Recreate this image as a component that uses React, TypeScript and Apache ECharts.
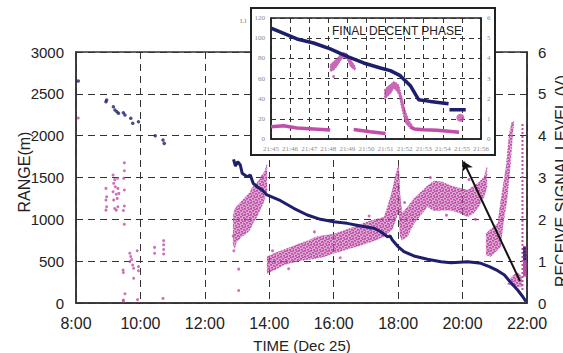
import React, { useEffect, useRef } from "react";
import * as echarts from "echarts";

const NAVY = "#1d1f6e";
const MAG = "#c04ea8";
const INK = "#222";

// ---------- main chart (time in hours, range in m, signal in V) ----------
const timeMin = 8;
const timeMax = 22;
const rangeMax = 3000;
const signalMax = 6;

const rangeDots: number[][] = [
  [8.07, 2653], [8.93, 2406], [8.95, 2426], [9.16, 2346], [9.21, 2306], [9.27, 2286],
  [9.32, 2267], [9.47, 2274], [9.52, 2247], [9.7, 2207], [9.76, 2148], [9.94, 2167],
  [10.46, 2000], [10.7, 1948], [10.74, 1908],
];

const rangeCurve: number[][] = [
  [12.89, 1717], [12.95, 1637], [13.02, 1689], [13.1, 1649], [13.16, 1550], [13.31, 1509],
  [13.41, 1530], [13.5, 1430], [13.62, 1390], [13.78, 1350], [13.93, 1291], [14.35, 1223],
  [14.76, 1132], [15.18, 1052], [15.59, 1000], [16.0, 972], [16.42, 952], [16.84, 920],
  [17.25, 893], [17.46, 852], [17.67, 792], [17.75, 800], [17.82, 753], [17.98, 681],
  [18.18, 613], [18.49, 562], [18.91, 522], [19.33, 494], [19.64, 482], [20.16, 494],
  [20.57, 474], [20.83, 434], [21.09, 386], [21.3, 335], [21.5, 243], [21.71, 155],
  [21.87, 75], [21.97, 16],
];

const rangeStub: number[][] = [[21.92, 650], [21.92, 610], [21.93, 570], [21.93, 530]];

const signalDots: number[][] = [
  [8.07, 4.42],
  [8.93, 2.74], [8.95, 2.54], [8.93, 2.46], [8.95, 2.3], [8.93, 2.22],
  [9.15, 3.06], [9.2, 2.95], [9.17, 2.86], [9.22, 2.78], [9.15, 2.66], [9.25, 2.6],
  [9.17, 2.46], [9.28, 2.5], [9.2, 2.26], [9.25, 2.22],
  [9.29, 2.98], [9.3, 2.74], [9.33, 2.62], [9.3, 2.3],
  [9.5, 3.35], [9.5, 3.16], [9.48, 2.98], [9.5, 2.7], [9.5, 2.32], [9.47, 2.21], [9.5, 1.88],
  [9.46, 0.79], [9.47, 0.73], [9.47, 0.07], [9.52, 0.22], [9.47, 0.05],
  [9.67, 1.19], [9.7, 1.11], [9.73, 1.04], [9.67, 0.99], [9.76, 0.91], [9.79, 0.83],
  [9.79, 0.59], [9.9, 1.25], [9.94, 0.87], [9.94, 0.77], [9.91, 0.08],
  [10.44, 1.33], [10.44, 1.19], [10.72, 1.49], [10.72, 1.39], [10.72, 1.28], [10.72, 1.17],
  [10.7, 0.11],
  [13.05, 0.81], [13.05, 0.3], [12.9, 1.25], [12.88, 1.6],
  [14.1, 1.25], [14.6, 0.82], [15.4, 1.7], [16.2, 1.08], [17.1, 2.08], [19.0, 3.0],
  [19.5, 2.1], [20.2, 2.95], [20.4, 2.0], [18.2, 2.4],
];

// clouds given as [time, low V, high V]
const signalBand1: number[][] = [
  [12.88, 1.4, 2.1], [12.93, 1.3, 2.25], [12.98, 1.45, 2.3], [13.04, 1.5, 2.35],
  [13.1, 1.55, 2.4], [13.16, 1.6, 2.45], [13.22, 1.62, 2.5], [13.28, 1.66, 2.55],
  [13.34, 1.7, 2.6], [13.4, 1.75, 2.65], [13.46, 1.85, 2.75], [13.52, 1.95, 2.8],
  [13.58, 2.0, 2.85], [13.64, 2.1, 2.9], [13.7, 2.2, 2.95], [13.76, 2.3, 3.05],
  [13.82, 2.4, 3.1], [13.88, 2.55, 3.2], [13.93, 2.7, 3.32],
];
const signalBand2: number[][] = [
  [13.93, 0.71, 1.11], [14.2, 0.8, 1.2], [14.45, 0.91, 1.27], [14.7, 0.96, 1.35],
  [14.97, 1.01, 1.43], [15.23, 1.04, 1.5], [15.49, 1.07, 1.59], [15.75, 1.12, 1.62],
  [16.0, 1.19, 1.65], [16.27, 1.25, 1.72], [16.53, 1.31, 1.79], [16.8, 1.37, 1.87],
  [17.04, 1.43, 1.94], [17.3, 1.5, 2.0], [17.56, 1.59, 2.05], [17.67, 1.67, 2.3],
  [17.82, 1.75, 2.7], [17.93, 2.0, 3.1], [18.02, 2.2, 3.32], [18.06, 1.6, 2.6],
  [18.12, 1.5, 2.15], [18.3, 1.6, 2.3], [18.49, 1.9, 2.5], [18.7, 2.1, 2.65],
  [18.91, 2.3, 2.8], [19.12, 2.2, 2.92], [19.35, 2.22, 2.9], [19.64, 2.22, 2.8],
  [19.9, 2.15, 2.75], [20.16, 2.06, 2.7], [20.35, 2.15, 2.8], [20.5, 2.3, 2.88],
  [20.67, 2.54, 3.02], [20.76, 2.78, 3.26],
];
// clouds given as outlines [time, V]
const signalRise: number[][] = [
  [20.73, 1.15], [20.73, 1.67], [21.09, 1.9], [21.19, 2.46], [21.35, 3.26], [21.45, 4.06],
  [21.53, 4.33], [21.6, 4.33], [21.56, 4.06], [21.48, 3.26], [21.38, 2.46], [21.25, 1.82],
  [21.19, 1.35], [20.88, 1.11],
];
const signalLowBlob: number[][] = [
  [21.4, 0.45], [21.5, 0.6], [21.6, 0.68], [21.72, 0.72], [21.82, 0.65], [21.85, 0.4],
  [21.7, 0.38], [21.55, 0.42],
];
const signalColumns: number[][] = [[21.86, 0.31, 4.3], [21.93, 0.63, 1.36]];

const arrowFrom = [21.78, 265];
const arrowTo = [20.03, 1690];

// ---------- inset (minutes after 21:00) ----------
const insetMin = 45;
const insetMax = 56;
const insetRangeMax = 120;
const insetRange1: number[][] = [
  [45.0, 110], [46.36, 99.2], [47.23, 95.2], [48.1, 89.3], [48.98, 82], [49.85, 75.4],
  [50.73, 70.4], [51.25, 67.8], [51.77, 62.8], [52.3, 52.9], [52.73, 39], [53.34, 37.3],
  [54.3, 35],
];
const insetRange2: number[][] = [[54.35, 29], [55.2, 29]];
const insetSignal1: number[][] = [[45.0, 0.61], [45.66, 0.66], [46.36, 0.55], [47.23, 0.5], [48.1, 0.45]];
const insetSignal2: number[][] = [[49.33, 0.47], [50.2, 0.36], [51.0, 0.27]];
const insetSignal3: number[][] = [[52.3, 0.6], [52.5, 0.5], [53.0, 0.46], [53.7, 0.43], [54.3, 0.38], [54.85, 0.33]];
const insetHump1: number[][] = [
  [48.1, 3.35, 3.7], [48.28, 3.4, 3.85], [48.46, 3.6, 4.0], [48.63, 3.85, 4.2], [48.8, 4.05, 4.3],
  [48.98, 3.95, 4.25], [49.15, 3.6, 3.95], [49.33, 3.45, 3.75], [49.42, 3.4, 3.6],
];
const insetHump2: number[][] = [
  [50.94, 1.95, 2.44], [51.1, 2.1, 2.6], [51.3, 2.28, 2.75], [51.42, 2.5, 2.86], [51.55, 2.4, 2.8],
  [51.69, 2.2, 2.69], [51.86, 1.45, 2.11], [52.03, 0.79, 1.45], [52.21, 0.6, 0.96], [52.4, 0.5, 0.7],
];
const insetDots: number[][] = [[48.28, 3.1], [54.92, 1.05]];

const rangeToOutline = (rows: number[][]) => [
  ...rows.map((r) => [r[0], r[2]]),
  ...rows.slice().reverse().map((r) => [r[0], r[1]]),
];

const FONT = "'Liberation Sans', Arial, sans-serif";
const SERIF = "'Liberation Serif', 'DejaVu Serif', serif";

// speckle texture tile for the scatter clouds
function makeSpeckle(): any {
  try {
    const c = document.createElement("canvas");
    c.width = 6;
    c.height = 6;
    const ctx = c.getContext("2d");
    if (!ctx) return null;
    ctx.fillStyle = MAG;
    const spots = [[0, 0], [3, 1], [1, 3], [4, 4], [5, 2], [2, 5]];
    spots.forEach(([x, y]) => ctx.fillRect(x, y, 2, 1.6));
    return { image: c.toDataURL(), repeat: "repeat", imageWidth: 6, imageHeight: 6 };
  } catch (e) {
    return null;
  }
}

function polygonSeries(polys: number[][][], xi: number, yi: number, z: number, opacity: number, speckle: any) {
  return {
    type: "custom",
    xAxisIndex: xi,
    yAxisIndex: yi,
    z,
    silent: true,
    clip: true,
    data: polys.map((p, i) => [p[0][0], p[0][1], i]),
    renderItem: (params: any, api: any) => {
      const pts = polys[params.dataIndex].map((pt) => api.coord(pt));
      const children: any[] = [
        { type: "polygon", shape: { points: pts }, style: { fill: MAG, opacity, stroke: MAG, lineWidth: 1, lineDash: [1, 2] } },
      ];
      if (speckle) children.push({ type: "polygon", shape: { points: pts }, style: { fill: speckle } });
      return { type: "group", children };
    },
  };
}

export default function App() {
  const ref = useRef<HTMLDivElement>(null);
  useEffect(() => {
    if (!ref.current) return;
    const chart = echarts.init(ref.current, undefined, { renderer: "svg" });
    const speckle = makeSpeckle();
    const dash = { color: "#333", width: 1, type: [7, 5] as any };
    const insetDash = { color: "#333", width: 1, type: [5, 4] as any };
    const insetLabel = { fontFamily: SERIF, fontSize: 7, color: "#8a8a8a" };
    const plain = (v: number) => String(v);
    const option: any = {
      animation: false,
      backgroundColor: "#fff",
      grid: [
        { left: 76, top: 52, width: 451, height: 251, show: true, borderColor: "#333", borderWidth: 1.5, backgroundColor: "transparent" },
        { left: 271, top: 18, width: 210, height: 121, show: true, borderColor: "#222", borderWidth: 1.5, backgroundColor: "transparent", z: 10 },
      ],
      xAxis: [
        {
          type: "value", gridIndex: 0, min: timeMin, max: timeMax, interval: 2,
          axisLine: { show: true, lineStyle: { color: "#333", width: 1.5 } },
          axisTick: { show: false },
          axisLabel: { fontFamily: FONT, fontSize: 16, color: INK, margin: 12, formatter: (v: number) => `${v}:00` },
          splitLine: { show: true, lineStyle: dash },
        },
        {
          type: "value", gridIndex: 1, min: insetMin, max: insetMax, interval: 1, z: 10,
          axisLine: { show: true, lineStyle: { color: "#222", width: 1.5 } },
          axisTick: { show: false },
          axisLabel: { ...insetLabel, margin: 6, interval: 0, hideOverlap: false, formatter: (v: number) => `21:${v}` },
          splitLine: { show: true, lineStyle: insetDash },
        },
      ],
      yAxis: [
        {
          type: "value", gridIndex: 0, min: 0, max: rangeMax, interval: 500,
          axisLine: { show: true, lineStyle: { color: "#333", width: 1.5 } },
          axisTick: { show: false },
          axisLabel: { fontFamily: FONT, fontSize: 15, color: INK, margin: 12, formatter: plain },
          splitLine: { show: true, lineStyle: dash },
        },
        {
          type: "value", gridIndex: 0, min: 0, max: signalMax, interval: 1, position: "right",
          axisLine: { show: true, lineStyle: { color: "#333", width: 1.5 } },
          axisTick: { show: false },
          axisLabel: { fontFamily: FONT, fontSize: 15, color: INK, margin: 11, formatter: plain },
          splitLine: { show: false },
        },
        {
          type: "value", gridIndex: 1, min: 0, max: insetRangeMax, interval: 20, z: 10,
          axisLine: { show: true, lineStyle: { color: "#222", width: 1.5 } },
          axisTick: { show: false },
          axisLabel: { ...insetLabel, margin: 6, formatter: plain },
          splitLine: { show: true, lineStyle: insetDash },
        },
        {
          type: "value", gridIndex: 1, min: 0, max: signalMax, interval: 1, position: "right", z: 10,
          axisLine: { show: true, lineStyle: { color: "#222", width: 1.5 } },
          axisTick: { show: false },
          axisLabel: { ...insetLabel, margin: 6, formatter: plain },
          splitLine: { show: false },
        },
      ],
      series: [
        polygonSeries([rangeToOutline(signalBand1), rangeToOutline(signalBand2), signalRise, signalLowBlob], 0, 1, 2, 0.5, speckle),
        {
          type: "custom", xAxisIndex: 0, yAxisIndex: 1, z: 2, silent: true,
          data: signalColumns.map((c, i) => [c[0], c[1], i]),
          renderItem: (params: any, api: any) => {
            const c = signalColumns[params.dataIndex];
            const a = api.coord([c[0], c[1]]);
            const b = api.coord([c[0], c[2]]);
            return {
              type: "line",
              shape: { x1: a[0], y1: a[1], x2: b[0], y2: b[1] },
              style: { stroke: MAG, lineWidth: params.dataIndex === 0 ? 2 : 3.5, lineDash: params.dataIndex === 0 ? [2, 2] : null },
            };
          },
        },
        {
          type: "scatter", xAxisIndex: 0, yAxisIndex: 1, z: 3, silent: true,
          symbol: "circle", symbolSize: 3, itemStyle: { color: MAG },
          data: signalDots,
        },
        {
          type: "scatter", xAxisIndex: 0, yAxisIndex: 0, z: 3, silent: true,
          symbol: "circle", symbolSize: 3.5, itemStyle: { color: NAVY },
          data: [...rangeDots, ...rangeStub],
          markLine: {
            silent: true, animation: false, symbol: ["none", "arrow"], symbolSize: 9,
            label: { show: false },
            lineStyle: { color: "#111", width: 2, type: "solid" },
            data: [[{ coord: arrowFrom }, { coord: arrowTo }]],
          },
        },
        {
          type: "line", xAxisIndex: 0, yAxisIndex: 0, z: 4, silent: true, symbol: "none",
          lineStyle: { color: NAVY, width: 3 }, data: rangeCurve,
        },
        // inset
        polygonSeries([rangeToOutline(insetHump1), rangeToOutline(insetHump2)], 1, 3, 12, 0.85, null),
        ...[insetSignal1, insetSignal2, insetSignal3].map((d) => ({
          type: "line", xAxisIndex: 1, yAxisIndex: 3, z: 12, silent: true, symbol: "none",
          lineStyle: { color: MAG, width: 3.5 }, data: d,
        })),
        {
          type: "scatter", xAxisIndex: 1, yAxisIndex: 3, z: 12, silent: true,
          symbol: "circle", symbolSize: (v: number[]) => (v[0] > 54 ? 8 : 3), itemStyle: { color: MAG },
          data: insetDots,
        },
        ...[insetRange1, insetRange2].map((d) => ({
          type: "line", xAxisIndex: 1, yAxisIndex: 2, z: 13, silent: true, symbol: "none",
          lineStyle: { color: NAVY, width: 3.5 }, data: d,
        })),
      ],
      graphic: {
        elements: [
          { type: "rect", z: 8, zlevel: 0, silent: true, shape: { x: 251, y: 8, width: 244, height: 147 }, style: { fill: "#fff", stroke: "#222", lineWidth: 2 } },
          { type: "text", z: 9, x: 240, y: 21, silent: true, style: { text: "LI", font: `7px ${SERIF}`, fill: "#8a8a8a", align: "left", textAlign: "left", verticalAlign: "middle", textVerticalAlign: "middle" } },
          { type: "text", z: 20, x: 397, y: 31, silent: true, style: { text: "FINAL DECENT PHASE", font: `12px ${FONT}`, fill: INK, align: "center", textAlign: "center", verticalAlign: "middle", textVerticalAlign: "middle" } },
          { type: "text", z: 9, x: 302, y: 345, silent: true, style: { text: "TIME (Dec 25)", font: `15px ${FONT}`, fill: INK, align: "center", textAlign: "center", verticalAlign: "middle", textVerticalAlign: "middle" } },
          { type: "text", z: 9, x: 24, y: 172, rotation: Math.PI / 2, silent: true, style: { text: "RANGE(m)", font: `16px ${FONT}`, fill: INK, align: "center", textAlign: "center", verticalAlign: "middle", textVerticalAlign: "middle" } },
          { type: "text", z: 9, x: 561, y: 181, rotation: Math.PI / 2, silent: true, style: { text: "RECEIVE SIGNAL LEVEL (V)", font: `16px ${FONT}`, fill: INK, align: "center", textAlign: "center", verticalAlign: "middle", textVerticalAlign: "middle" } },
        ],
      },
    };
    chart.setOption(option);
    return () => chart.dispose();
  }, []);
  return <div ref={ref} style={{ width: 563, height: 353, position: "absolute", left: 0, top: 0 }} />;
}
